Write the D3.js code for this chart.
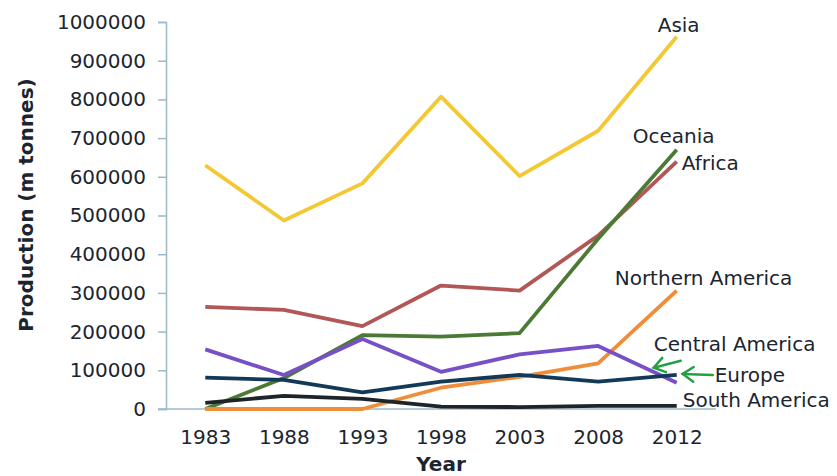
<!DOCTYPE html>
<html>
<head>
<meta charset="utf-8">
<script src="https://cdn.jsdelivr.net/npm/d3@7"></script>
<style>
  body { margin: 0; background: #fff; }
  text { font-family: "DejaVu Sans", Verdana, sans-serif; fill: #1b2530; }
</style>
</head>
<body>
<div id="chart"></div>
<script>
// data
var years = ["1983", "1988", "1993", "1998", "2003", "2008", "2012"];
var yTicks = [0, 100000, 200000, 300000, 400000, 500000, 600000, 700000, 800000, 900000, 1000000];

var asia = [630000, 487000, 583000, 807000, 602000, 719000, 962000];
var oceania = [0, 80000, 191000, 187000, 196000, 440000, 670000];
var africa = [264000, 256000, 214000, 319000, 306000, 448000, 639000];
var northernAmerica = [0, 0, 0, 55000, 83000, 118000, 306000];
var centralAmerica = [154000, 88000, 181000, 96000, 141000, 163000, 68000];
var europe = [81000, 75000, 43000, 71000, 88000, 71000, 88000];
var southAmerica = [16000, 34000, 26000, 6000, 5000, 8000, 8000];

var series = [
    { name: "Asia", values: asia, color: "#f3c834", dx: -19, dy: -5 },
    { name: "Africa", values: africa, color: "#b35656", dx: 5, dy: 8 },
    { name: "Oceania", values: oceania, color: "#4b7a35", dx: -44, dy: -7 },
    { name: "Northern America", values: northernAmerica, color: "#f08d3a", dx: -62, dy: -6 },
    { name: "Central America", values: centralAmerica, color: "#7850c6", dx: -23, dy: -32 },
    { name: "South America", values: southAmerica, color: "#1e2428", dx: 6, dy: 1 },
    { name: "Europe", values: europe, color: "#123a58", dx: 38, dy: 7 }
];

function drawChart() {
    const width = 837;
    const height = 476;
    const axisColor = "#9db8cb";

    var svg = d3.select("#chart")
        .append("svg")
        .attr("width", width)
        .attr("height", height);

    var xscale = d3.scalePoint()
        .domain(years)
        .range([166, 716])
        .padding(0.5);
    var yscale = d3.scaleLinear()
        .domain([0, 1000000])
        .range([409, 22]);

    var y_axis = d3.axisLeft(yscale)
        .tickValues(yTicks)
        .tickFormat(d3.format("d"))
        .tickSize(8)
        .tickPadding(12);
    var x_axis = d3.axisBottom(xscale)
        .tickSize(0)
        .tickPadding(21);

    var gy = svg.append("g")
        .attr("transform", "translate(166,0)")
        .call(y_axis);
    gy.select(".domain").attr("stroke", axisColor).attr("stroke-width", 1.5);
    gy.selectAll(".tick line").attr("stroke", axisColor).attr("stroke-width", 1.5);
    gy.selectAll(".tick text")
        .attr("font-size", 20)
        .attr("font-family", "DejaVu Sans, sans-serif")
        .attr("fill", "#1b2530");

    var gx = svg.append("g")
        .attr("transform", "translate(0,409)")
        .call(x_axis);
    gx.select(".domain")
        .attr("d", "M158,0H716")
        .attr("stroke", axisColor)
        .attr("stroke-width", 1.5);
    gx.selectAll(".tick text")
        .attr("font-size", 20)
        .attr("font-family", "DejaVu Sans, sans-serif")
        .attr("fill", "#1b2530");

    // axis titles
    svg.append("text")
        .attr("x", 441)
        .attr("y", 471)
        .attr("text-anchor", "middle")
        .attr("font-size", 20)
        .attr("font-weight", "bold")
        .text("Year");

    svg.append("text")
        .attr("transform", "translate(33,205) rotate(-90)")
        .attr("text-anchor", "middle")
        .attr("font-size", 20)
        .attr("font-weight", "bold")
        .text("Production (m tonnes)");

    var line = d3.line()
        .x(function (d, i) { return xscale(years[i]); })
        .y(function (d) { return yscale(d); });

    svg.selectAll("path.series")
        .data(series)
        .enter()
        .append("path")
        .attr("class", "series")
        .attr("d", function (s) { return line(s.values); })
        .attr("fill", "none")
        .attr("stroke", function (s) { return s.color; })
        .attr("stroke-width", 3.8)
        .attr("stroke-linejoin", "round");

    // labels next to the last point of each line
    var last = years.length - 1;
    svg.selectAll("text.label")
        .data(series)
        .enter()
        .append("text")
        .attr("class", "label")
        .attr("x", function (s) { return xscale(years[last]) + s.dx; })
        .attr("y", function (s) { return yscale(s.values[last]) + s.dy; })
        .attr("font-size", 20)
        .text(function (s) { return s.name; });

    // green arrows for Central America and Europe
    var xEnd = xscale(years[last]);
    var arrows = [
        { x1: xEnd + 4, y1: yscale(centralAmerica[last]) - 22, x2: xEnd - 23, y2: yscale(centralAmerica[last]) - 15 },
        { x1: xEnd + 36, y1: yscale(europe[last]), x2: xEnd + 6, y2: yscale(europe[last]) - 1 }
    ];
    arrows.forEach(function (a) {
        var ang = Math.atan2(a.y1 - a.y2, a.x1 - a.x2);
        var len = 13, spread = 0.6;
        var g = svg.append("g")
            .attr("stroke", "#23a043")
            .attr("stroke-width", 2.5)
            .attr("fill", "none")
            .attr("stroke-linecap", "round");
        g.append("line")
            .attr("x1", a.x1).attr("y1", a.y1)
            .attr("x2", a.x2).attr("y2", a.y2);
        g.append("path")
            .attr("d", "M" + (a.x2 + len * Math.cos(ang - spread)) + "," + (a.y2 + len * Math.sin(ang - spread)) +
                "L" + a.x2 + "," + a.y2 +
                "L" + (a.x2 + len * Math.cos(ang + spread)) + "," + (a.y2 + len * Math.sin(ang + spread)));
    });
}

window.addEventListener('load', function () {
    drawChart();
})
</script>
</body>
</html>
